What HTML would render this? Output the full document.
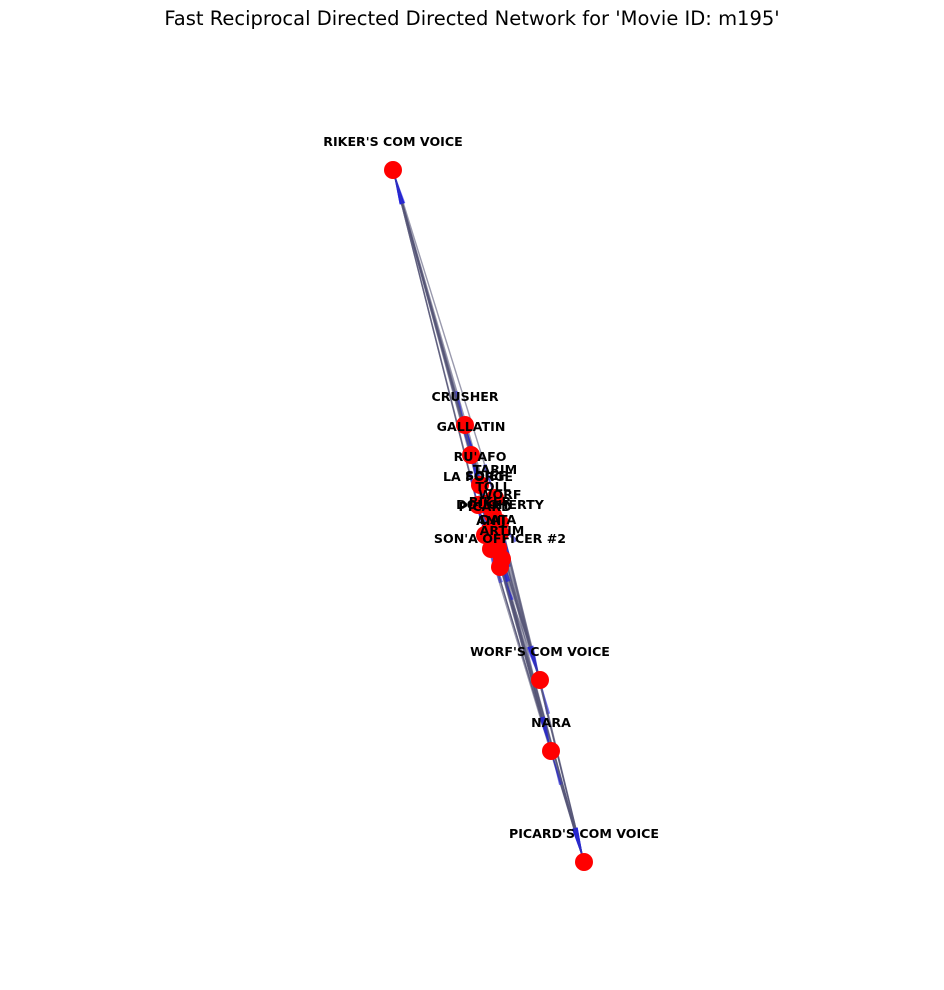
<!DOCTYPE html>
<html><head><meta charset="utf-8"><style>
body{margin:0;background:#fff;font-family:"DejaVu Sans","Liberation Sans",sans-serif}
</style></head><body>
<svg width="944" height="986" xmlns="http://www.w3.org/2000/svg">
<text x="472" y="25" text-anchor="middle" font-size="19.5">Fast Reciprocal Directed Directed Network for 'Movie ID: m195'</text>
<g id="edges"></g>
<g id="nodes"></g>
<g id="labels"></g>
</svg>
<script>
const names=["RIKER'S COM VOICE","CRUSHER","GALLATIN","RU'AFO","TARIM","LA FORGE","SOJEF","TOLL","WORF","RIKER","DOUGHERTY","PICARD","DATA","ANIJ","ARTIM","SON'A OFFICER #2","WORF'S COM VOICE","NARA","PICARD'S COM VOICE"];
const xs=[393,465,471,480,495,478,486,493,500,490,500,485,498,491,502,500,540,551,584];
const ys=[170,425,455,485,498,505,504,515,523,530,533,535,548,549,559,567,680,751,862];
const edgeFrom=[0,0,0,0,0,1,1,2,2,3,3,4,5,6,7,8,9,10,11,11,12,13,14,15,16,17,0,1,2,3,4,5,6,7,0,0,0,0,0,0,1,2,3,4,5,6,8,9,10,12];
const edgeTo=[18,17,16,11,12,18,17,18,16,17,18,16,18,17,16,18,17,16,18,0,17,18,0,16,18,18,15,14,13,12,11,10,9,8,1,2,3,4,5,6,16,17,16,18,17,16,18,18,17,16];
const NS="http://www.w3.org/2000/svg";
const eg=document.getElementById('edges'),ng=document.getElementById('nodes'),lg=document.getElementById('labels');
for(let i=0;i<edgeFrom.length;i++){
 const a=edgeFrom[i],b=edgeTo[i];
 const l=document.createElementNS(NS,'line');
 
 
 l.setAttribute('x1',xs[a]);l.setAttribute('y1',ys[a]);l.setAttribute('x2',xs[b]);l.setAttribute('y2',ys[b]);
 l.setAttribute('stroke','#555577');l.setAttribute('stroke-opacity','0.6');l.setAttribute('stroke-width','1.4');
 eg.appendChild(l);
 const dx=xs[b]-xs[a],dy=ys[b]-ys[a],len=Math.hypot(dx,dy),ux=dx/len,uy=dy/len;
 [[b,1],[a,-1]].forEach(([n,s])=>{
  const tx=xs[n],ty=ys[n],bx=tx-s*ux*35,by=ty-s*uy*35;
  const p=document.createElementNS(NS,'polygon');
  
  
  p.setAttribute('points',`${tx},${ty} ${bx-uy*2},${by+ux*2} ${bx+uy*2},${by-ux*2}`);
  p.setAttribute('fill','#2020dd');p.setAttribute('fill-opacity','0.6');
  eg.appendChild(p);
 });
}
for(let i=0;i<names.length;i++){
 const c=document.createElementNS(NS,'circle');
 
 
 c.setAttribute('cx',xs[i]);c.setAttribute('cy',ys[i]);c.setAttribute('r','9');c.setAttribute('fill','#ff0000');
 ng.appendChild(c);
 const t=document.createElementNS(NS,'text');
 
 
 t.setAttribute('x',xs[i]);t.setAttribute('y',ys[i]-24);t.setAttribute('text-anchor','middle');
 t.setAttribute('font-size','12.6');t.setAttribute('font-weight','bold');
 t.textContent=names[i];
 lg.appendChild(t);
}
</script>
</body></html>
